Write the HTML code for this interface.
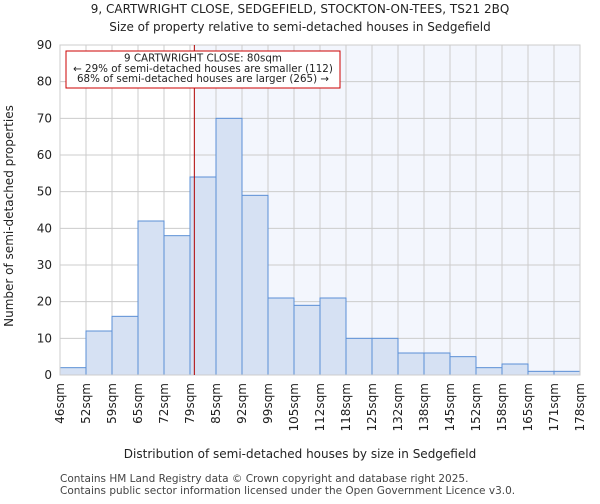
<!DOCTYPE html>
<html><head><meta charset="utf-8"><style>
body{margin:0;background:#fff;font-family:"DejaVu Sans","Liberation Sans",sans-serif}
</style></head><body>
<svg id="c" width="600" height="500" xmlns="http://www.w3.org/2000/svg" font-family="DejaVu Sans, Liberation Sans, sans-serif">
<text x="300" y="13" text-anchor="middle" font-size="12" fill="#222">9, CARTWRIGHT CLOSE, SEDGEFIELD, STOCKTON-ON-TEES, TS21 2BQ</text>
<text x="300" y="31" text-anchor="middle" font-size="12" fill="#222">Size of property relative to semi-detached houses in Sedgefield</text>
<text x="300" y="458" text-anchor="middle" font-size="12" fill="#222">Distribution of semi-detached houses by size in Sedgefield</text>
<text transform="translate(13,216) rotate(-90)" text-anchor="middle" font-size="12" fill="#222">Number of semi-detached properties</text>
<text x="60" y="482" font-size="10.5" fill="#444">Contains HM Land Registry data © Crown copyright and database right 2025.</text>
<text x="60" y="494" font-size="10.5" fill="#444">Contains public sector information licensed under the Open Government Licence v3.0.</text>
<g id="plot"></g>
</svg>
<script>
const categories=["46sqm","52sqm","59sqm","65sqm","72sqm","79sqm","85sqm","92sqm","99sqm","105sqm","112sqm","118sqm","125sqm","132sqm","138sqm","145sqm","152sqm","158sqm","165sqm","171sqm","178sqm"];
const counts=[2,12,16,42,38,54,70,49,21,19,21,10,10,6,6,5,2,3,1,1];
const yTicks=[0,10,20,30,40,50,60,70,80,90];
const edges=[46,52,59,65,72,79,85,92,99,105,112,118,125,132,138,145,152,158,165,171,178];
const propertySize=80;
const annotation=["9 CARTWRIGHT CLOSE: 80sqm","← 29% of semi-detached houses are smaller (112)","68% of semi-detached houses are larger (265) →"];

const L=60,R=580,T=45,B=375,yMax=90;
const bw=(R-L)/counts.length;
const xi=i=>L+i*bw;
const y=v=>B-(v/yMax)*(B-T);
function xv(v){for(let i=0;i<edges.length-1;i++){if(v>=edges[i]&&v<=edges[i+1])return xi(i)+(v-edges[i])/(edges[i+1]-edges[i])*bw;}return R;}
const NS="http://www.w3.org/2000/svg";
const g=document.getElementById('plot');
function mk(t,a){const e=document.createElementNS(NS,t);for(const k in a)e.setAttribute(k,a[k]);g.appendChild(e);return e;}
const lx=xv(propertySize);
let e=mk('rect',{x:lx,y:T,width:R-lx,height:B-T,fill:'#f3f6fd'});


yTicks.forEach(t=>{
 let l=mk('line',{x1:L,x2:R,y1:y(t),y2:y(t),stroke:'#cccccc','stroke-width':1});
 
 
 let tx=mk('text',{x:L-8,y:y(t)+4,'text-anchor':'end','font-size':12,fill:'#222'});
 tx.textContent=t;
 
 
});
categories.forEach((c,i)=>{
 let l=mk('line',{x1:xi(i),x2:xi(i),y1:T,y2:B,stroke:'#cccccc','stroke-width':1});
 
 
 let tx=mk('text',{transform:`translate(${xi(i)+4},${B+8}) rotate(-90)`,'text-anchor':'end','font-size':12,fill:'#222'});
 tx.textContent=c;
 
 
});
counts.forEach((v,i)=>{
 let r=mk('rect',{x:xi(i),y:y(v),width:bw,height:B-y(v),fill:'#d6e1f3',stroke:'#5b8fd6','stroke-width':1});
 
 
});
let ax=mk('rect',{x:L,y:T,width:R-L,height:B-T,fill:'none',stroke:'#cccccc'});


let rl=mk('line',{x1:lx,x2:lx,y1:T,y2:B,stroke:'#b00000','stroke-width':1});


let box=mk('rect',{x:66,y:51,width:274,height:37,fill:'#fff',stroke:'#c00','stroke-width':1});


annotation.forEach((s,i)=>{
 let t=mk('text',{x:203,y:61.5+i*10.3,'text-anchor':'middle','font-size':10.3,fill:'#222'});
 t.textContent=s;
 
 
});
</script>
</body></html>
